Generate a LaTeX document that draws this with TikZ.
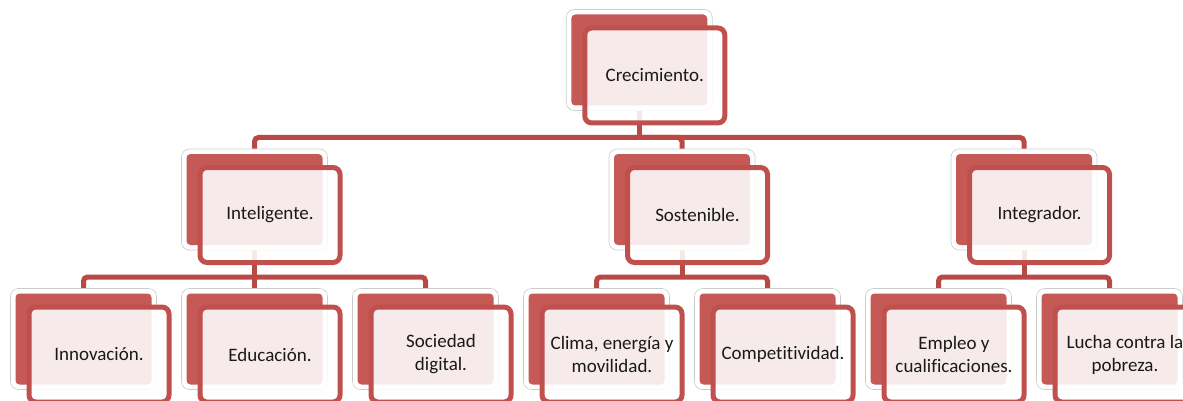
\documentclass[tikz,border=0pt]{standalone}
\usepackage{fontspec}
\setmainfont{Carlito}[Ligatures={NoCommon}]
\usetikzlibrary{calc}
\definecolor{backred}{RGB}{197,89,86}
\definecolor{edgered}{RGB}{192,80,77}
\definecolor{linered}{RGB}{186,72,69}
\definecolor{txtcol}{RGB}{25,25,25}
\tikzset{
 halo/.style={draw=black!20, line width=0.6pt, fill=white, rounded corners=8pt, minimum width=146pt, minimum height=101pt, inner sep=0pt, outer sep=0pt},
 backbox/.style={fill=backred, rounded corners=4pt, minimum width=136pt, minimum height=91pt, inner sep=0pt, outer sep=0pt},
 frontbox/.style={draw=edgered, line width=5pt, fill=white, fill opacity=0.88, text opacity=1, rounded corners=7pt, minimum width=140pt, minimum height=95pt, inner sep=0pt, outer sep=0pt, align=center, font=\fontsize{19}{23}\selectfont, text=txtcol},
 conn/.style={draw=linered, line width=5pt, rounded corners=4pt},
}
\newcommand\orgbox[4]{%
 \node[halo] (h#1) at (#2,#3) {};
 \node[backbox] (b#1) at (#2,#3) {};
 \node[frontbox] (f#1) at ($(#2,#3)+(15.5,15.5)$) {#4};
}
\begin{document}
\begin{tikzpicture}[x=1pt,y=-1pt]
\useasboundingbox (0,0) rectangle (1183,401);
% junction coordinates
\coordinate (j0) at (639.25,137.5);
\coordinate (ja) at (254.5,277);
\coordinate (jb) at (682,277);
\coordinate (jc) at (1024,277);
% anchor coordinates of boxes (back box centres)
\coordinate (p0) at (639.25,60);
\coordinate (pa) at (254.5,199.5);
\coordinate (pb) at (682,199.5);
\coordinate (pc) at (1024,199.5);
\coordinate (p1) at (83.5,339);
\coordinate (p2) at (254.5,339);
\coordinate (p3) at (425.5,339);
\coordinate (p4) at (596.5,339);
\coordinate (p5) at (767.5,339);
\coordinate (p6) at (938.5,339);
\coordinate (p7) at (1109.5,339);
% connectors
\draw[conn] (p0) -- (j0);
\draw[conn] (j0) -| (pa);
\draw[conn] (j0) -| (pb);
\draw[conn] (j0) -| (pc);
\draw[conn] (pa) -- (ja);
\draw[conn] (ja) -| (p1);
\draw[conn] (ja) -- (p2);
\draw[conn] (ja) -| (p3);
\draw[conn] (pb) -- (jb);
\draw[conn] (jb) -| (p4);
\draw[conn] (jb) -| (p5);
\draw[conn] (pc) -- (jc);
\draw[conn] (jc) -| (p6);
\draw[conn] (jc) -| (p7);
% boxes
\orgbox{0}{639.25}{60}{Crecimiento.}
\orgbox{a}{254.5}{199.5}{Inteligente.}
\orgbox{b}{682}{199.5}{Sostenible.}
\orgbox{c}{1024}{199.5}{Integrador.}
\orgbox{1}{83.5}{339}{Innovación.}
\orgbox{2}{254.5}{339}{Educación.}
\orgbox{3}{425.5}{339}{Sociedad\\digital.}
\orgbox{4}{596.5}{339}{Clima, energía y\\movilidad.}
\orgbox{5}{767.5}{339}{Competitividad.}
\orgbox{6}{938.5}{339}{Empleo y\\cualificaciones.}
\orgbox{7}{1109.5}{339}{Lucha contra la\\pobreza.}
\end{tikzpicture}
\end{document}
